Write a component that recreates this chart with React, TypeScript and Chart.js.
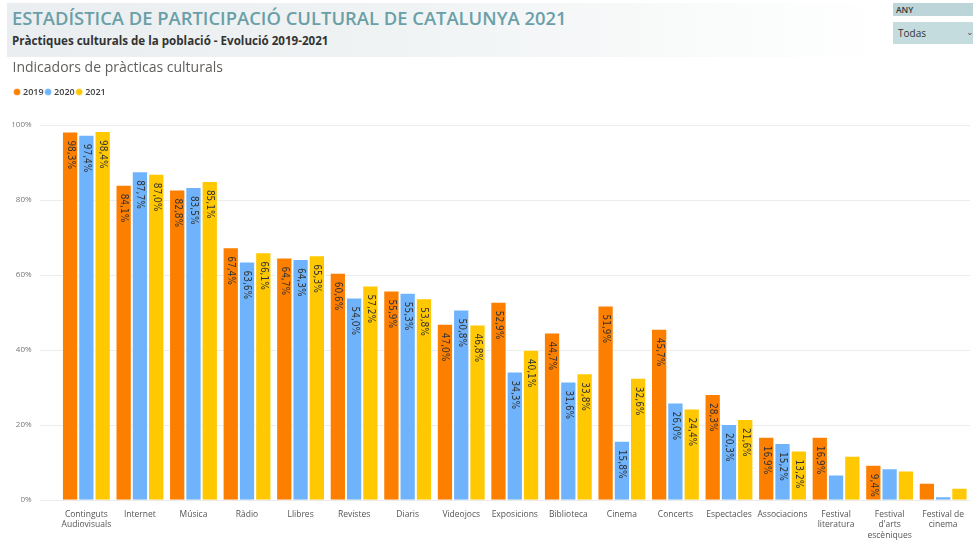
import React, { useEffect, useRef } from "react";
import { Chart, registerables } from "chart.js";

Chart.register(...registerables);

const categories: (string | string[])[] = [
  ["Continguts", "Audiovisuals"],
  "Internet",
  "Música",
  "Ràdio",
  "Llibres",
  "Revistes",
  "Diaris",
  "Videojocs",
  "Exposicions",
  "Biblioteca",
  "Cinema",
  "Concerts",
  "Espectacles",
  "Associacions",
  ["Festival", "literatura"],
  ["Festival", "d'arts", "escèniques"],
  ["Festival de", "cinema"],
];

const values2019 = [98.3, 84.1, 82.8, 67.4, 64.7, 60.6, 55.9, 47.0, 52.9, 44.7, 51.9, 45.7, 28.3, 16.9, 16.9, 9.4, 4.6];
const values2020 = [97.4, 87.7, 83.5, 63.6, 64.3, 54.0, 55.3, 50.8, 34.3, 31.6, 15.8, 26.0, 20.3, 15.2, 6.8, 8.5, 1.0];
const values2021 = [98.4, 87.0, 85.1, 66.1, 65.3, 57.2, 53.8, 46.8, 40.1, 33.8, 32.6, 24.4, 21.6, 13.2, 11.8, 7.9, 3.3];

// which bars carry a value label in the original
const labels2019 = [true, true, true, true, true, true, true, true, true, true, true, true, true, true, true, true, false];
const labels2020 = [true, true, true, true, true, true, true, true, true, true, true, true, true, true, false, false, false];
const labels2021 = [true, true, true, true, true, true, true, true, true, true, true, true, true, true, false, false, false];

const seriesNames = ["2019", "2020", "2021"];
const yTicks = [0, 20, 40, 60, 80, 100];

const COLORS = ["#FD7F00", "#6EB3FC", "#FFC800"];

const valueLabelPlugin = {
  id: "valueLabels",
  afterDatasetsDraw(chart: any) {
    const ctx: CanvasRenderingContext2D = chart.ctx;
    chart.data.datasets.forEach((ds: any, di: number) => {
      const meta = chart.getDatasetMeta(di);
      const show: boolean[] = ds.showLabels || [];
      meta.data.forEach((bar: any, i: number) => {
        if (!show[i]) return;
        const v = ds.data[i] as number;
        const { x, y } = bar.getProps(["x", "y"], true);
        ctx.save();
        ctx.translate(x, y + 9);
        ctx.rotate(Math.PI / 2);
        ctx.font = "10px 'DejaVu Sans Condensed'";
        ctx.fillStyle = "#333";
        ctx.textAlign = "left";
        ctx.textBaseline = "middle";
        ctx.fillText(v.toFixed(1).replace(".", ",") + "%", 0, 0);
        ctx.restore();
      });
    });
  },
};

export default function App() {
  const canvasRef = useRef<HTMLCanvasElement | null>(null);

  useEffect(() => {
    document.body.style.margin = "0";
    const canvas = canvasRef.current;
    if (!canvas) return;
    Chart.defaults.font.family = "'Open Sans'";
    const chart = new Chart(canvas, {
      type: "bar",
      data: {
        labels: categories,
        datasets: [
          { label: seriesNames[0], data: values2019, backgroundColor: COLORS[0], borderColor: "rgba(255,255,255,0.5)", borderWidth: 1, showLabels: labels2019 } as any,
          { label: seriesNames[1], data: values2020, backgroundColor: COLORS[1], borderColor: "rgba(255,255,255,0.5)", borderWidth: 1, showLabels: labels2020 } as any,
          { label: seriesNames[2], data: values2021, backgroundColor: COLORS[2], borderColor: "rgba(255,255,255,0.5)", borderWidth: 1, showLabels: labels2021 } as any,
        ],
      },
      options: {
        animation: false,
        responsive: false,
        maintainAspectRatio: false,
        datasets: {
          bar: { categoryPercentage: 0.912, barPercentage: 1 },
        },
        layout: { padding: { top: 57, left: 12.5, right: 0, bottom: 3 } },
        plugins: {
          title: {
            display: true,
            text: "Indicadors de pràcticas culturals",
            align: "start",
            color: "#605E5C",
            font: { size: 14, weight: "normal", family: "'Open Sans'", lineHeight: 1.2 },
            padding: { top: 2.6, bottom: 8.1 },
          },
          subtitle: {
            display: true,
            text: "",
            weight: 500,
            font: { size: 10, lineHeight: 1 },
            padding: { top: 8.5, bottom: 0 },
          } as any,
          legend: {
            display: true,
            position: "top",
            align: "start",
            labels: {
              usePointStyle: true,
              pointStyle: "circle",
              boxWidth: 3,
              boxHeight: 5,
              padding: 3,
              color: "#404040",
              font: { size: 9, weight: "600", family: "'Open Sans'" },
            },
          },
          tooltip: { enabled: false },
        },
        scales: {
          x: {
            grid: { display: false, drawTicks: false },
            border: { display: false },
            ticks: {
              autoSkip: false,
              maxRotation: 0,
              minRotation: 0,
              padding: 9,
              color: "#555",
              font: { size: 8.5, family: "'Open Sans'", lineHeight: 1.25 },
            },
          },
          y: {
            min: 0,
            max: 100,
            afterFit: (scale: any) => {
              scale.width = 47.1;
            },
            afterBuildTicks: (scale: any) => {
              scale.ticks = yTicks.map((v) => ({ value: v }));
            },
            grid: { color: "#ECECEC", lineWidth: 1, drawTicks: true, tickLength: 20, tickColor: "#ECECEC" },
            border: { display: false },
            ticks: {
              padding: 8,
              color: "#777",
              font: { size: 8, family: "'Open Sans'" },
              callback: (v: any) => v + "%",
            },
          },
        },
      } as any,
      plugins: [valueLabelPlugin],
    });
    return () => chart.destroy();
  }, []);

  return (
    <div style={{ position: "absolute", left: 0, top: 0, width: 973, height: 553, background: "#fff", overflow: "hidden" }}>
      <div
        style={{
          position: "absolute",
          left: 7,
          top: 3,
          width: 880,
          height: 54,
          background: "linear-gradient(to right, #eaeef0 0%, #f0f3f4 45%, #fbfcfc 85%, #ffffff 100%)",
        }}
      />
      <div
        style={{
          position: "absolute",
          left: 12,
          top: 6,
          fontFamily: "'Open Sans'",
          fontWeight: 600,
          fontSize: 18.4,
          lineHeight: "24px",
          color: "#6A9FA8",
          whiteSpace: "nowrap",
        }}
      >
        ESTADÍSTICA DE PARTICIPACIÓ CULTURAL DE CATALUNYA 2021
      </div>
      <div
        style={{
          position: "absolute",
          left: 12,
          top: 32,
          fontFamily: "'Open Sans'",
          fontWeight: 700,
          fontSize: 11.6,
          lineHeight: "18px",
          color: "#333",
          whiteSpace: "nowrap",
        }}
      >
        Pràctiques culturals de la població - Evolució 2019-2021
      </div>
      <div
        style={{
          position: "absolute",
          left: 893,
          top: 3,
          width: 80,
          height: 13,
          background: "#BCD5D8",
          fontFamily: "'Open Sans'",
          fontSize: 8.5,
          fontWeight: 600,
          lineHeight: "13px",
          color: "#333",
          paddingLeft: 3,
          boxSizing: "border-box",
        }}
      >
        ANY
      </div>
      <div
        style={{
          position: "absolute",
          left: 893,
          top: 22,
          width: 80,
          height: 22,
          background: "#C5DCDE",
          fontFamily: "'Open Sans'",
          fontSize: 10,
          lineHeight: "22px",
          color: "#333",
          paddingLeft: 5,
          boxSizing: "border-box",
        }}
      >
        Todas
        <span style={{ position: "absolute", left: 73, top: -1, fontSize: 9, color: "#555" }}>⌄</span>
      </div>
      <canvas ref={canvasRef} width={973} height={553} style={{ position: "absolute", left: 0, top: 0 }} />
    </div>
  );
}
